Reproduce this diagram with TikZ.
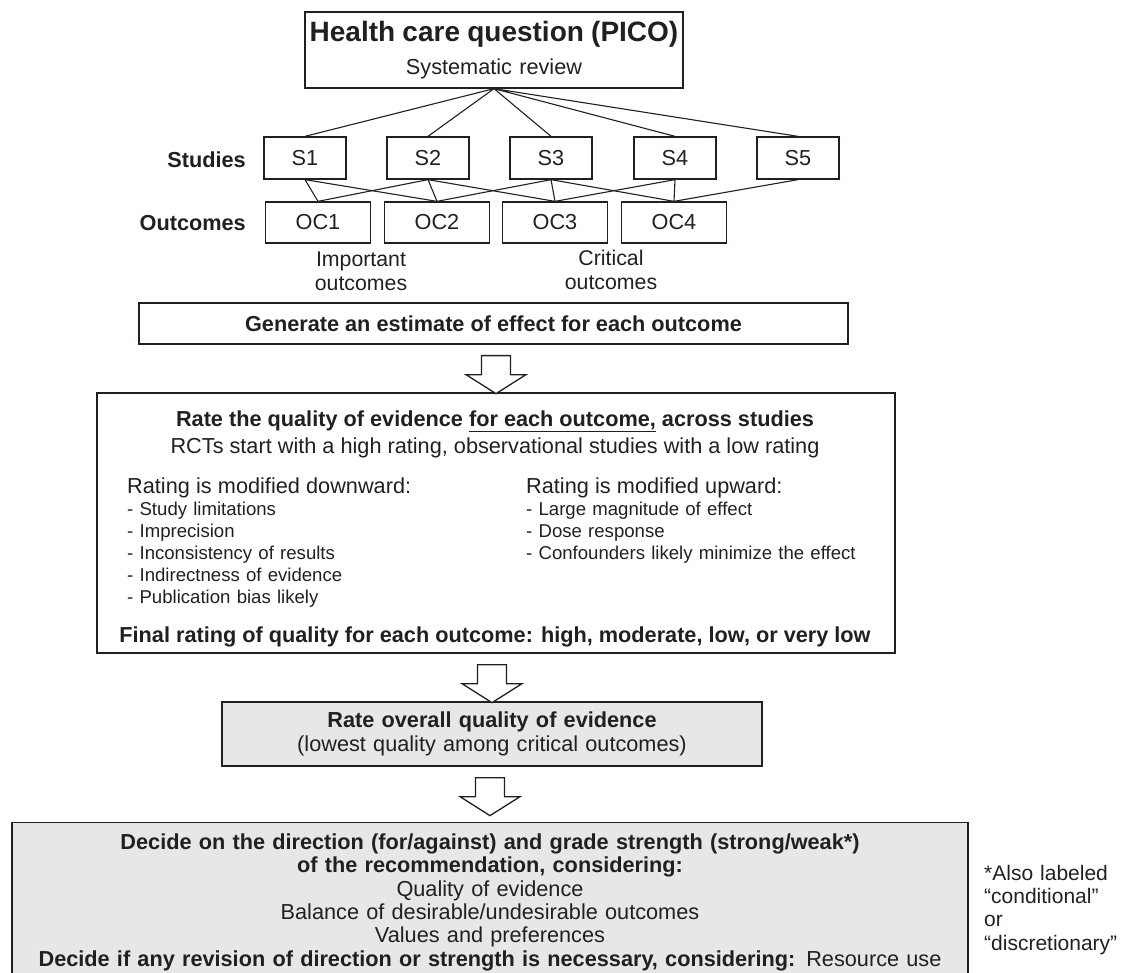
\documentclass[tikz,border=0pt]{standalone}
\usepackage{fontspec}
\setmainfont{Liberation Sans}
\usepackage{tikz}
\usetikzlibrary{positioning, calc}
\definecolor{boxgray}{HTML}{E6E7E8}
\definecolor{inkgray}{HTML}{231F20}
\newcommand{\bodysize}{\fontsize{21.7}{23.4}\selectfont}
\newcommand{\listsize}{\fontsize{18.6}{22}\selectfont}
\newcommand{\titlesize}{\fontsize{28}{30}\selectfont}
\newcommand{\flowarrow}[2]{%
	\draw[blockarrow] ($(#2.north |- #1.south)+(-14.5,11)$) -- ++(0,19) -- ++(-15.5,0) -- ++(30,19) -- ++(30,-19) -- ++(-15.5,0) -- ++(0,-19) -- cycle;}
\tikzstyle{qbox} = [draw=inkgray, line width=1.3pt, rectangle, inner sep=0pt, text=inkgray, font=\bodysize]
\tikzstyle{graybox} = [qbox, fill=boxgray]
\tikzstyle{study} = [qbox, minimum width=82pt, minimum height=42pt]
\tikzstyle{outcome} = [qbox, minimum width=105pt, minimum height=41pt]
\tikzstyle{rowlabel} = [anchor=east, inner sep=0pt, text=inkgray, font=\bodysize\bfseries]
\tikzstyle{textonly} = [inner sep=0pt, text=inkgray, font=\bodysize]
\tikzstyle{fanline} = [draw=inkgray, line width=1.1pt]
\tikzstyle{blockarrow} = [draw=inkgray, line width=1.3pt, fill=white, line join=miter]

\begin{document}
\begin{tikzpicture}[x=1pt, y=-1pt]
	\useasboundingbox (0,0) rectangle (1132,973);
	\clip (0,0) rectangle (1132,973);
	\node[qbox, minimum width=378pt, minimum height=76pt, text width=370pt, align=center] (pico) at (494,50) {{\titlesize\bfseries Health care question (PICO)}\\[9.6pt]Systematic review};
	\node[rowlabel] (studies) at (246,160) {Studies};
	\node[rowlabel] (outcomes) at (246,223) {Outcomes};
	\node[study] (s1) at (305,158) {S1};
	\node[study] (s2) at (428,158) {S2};
	\node[study] (s3) at (551,158) {S3};
	\node[study] (s4) at (675,158) {S4};
	\node[study] (s5) at (798,158) {S5};
	\node[outcome] (oc1) at (318,222.5) {OC1};
	\node[outcome] (oc2) at (437,222.5) {OC2};
	\node[outcome] (oc3) at (555,222.5) {OC3};
	\node[outcome] (oc4) at (674,222.5) {OC4};
	\draw[fanline] (pico.south) -- (s1.north) (pico.south) -- (s2.north) (pico.south) -- (s3.north) (pico.south) -- (s4.north) (pico.south) -- (s5.north);
	\draw[fanline] (s1.south) -- (oc1.north) (s1.south) -- (oc2.north);
	\draw[fanline] (s2.south) -- (oc1.north) (s2.south) -- (oc2.north) (s2.south) -- (oc3.north);
	\draw[fanline] (s3.south) -- (oc2.north) (s3.south) -- (oc3.north) (s3.south) -- (oc4.north);
	\draw[fanline] (s4.south) -- (oc3.north) (s4.south) -- (oc4.north);
	\draw[fanline] (s5.south) -- (oc4.north);
	\node[textonly, text width=130pt, align=center, font=\fontsize{21.3}{24}\selectfont] (important) at (361,271) {Important\\outcomes};
	\node[textonly, text width=130pt, align=center, font=\fontsize{21.3}{24}\selectfont] (critical) at (611,269.5) {Critical\\outcomes};
	\node[qbox, minimum width=709pt, minimum height=41pt, font=\bodysize\bfseries] (estimate) at (493.5,323.5) {Generate an estimate of effect for each outcome};
	\node[qbox, minimum width=798pt, minimum height=260pt] (rating) at (496,523) {};
	\node[textonly, anchor=base, font=\bodysize\bfseries] (ratehead) at (495,426) {Rate the quality of evidence \underline{for each outcome,} across studies};
	\node[textonly, anchor=base] (rctnote) at (495,453) {RCTs start with a high rating, observational studies with a low rating};
	\node[textonly, anchor=base west, text width=380pt, align=left, font=\listsize] (downlist) at (127,493) {{\bodysize Rating is modified downward:}\\- Study limitations\\- Imprecision\\- Inconsistency of results\\- Indirectness of evidence\\- Publication bias likely};
	\node[textonly, anchor=base west, text width=360pt, align=left, font=\listsize] (uplist) at (526,493) {{\bodysize Rating is modified upward:}\\- Large magnitude of effect\\- Dose response\\- Confounders likely minimize the effect};
	\node[textonly, anchor=base, font=\bodysize\bfseries] (finalrate) at (495,642) {Final rating of quality for each outcome: high, moderate, low, or very low};
	\node[graybox, minimum width=540pt, minimum height=64pt, text width=520pt, align=center] (overall) at (492,734) {\textbf{Rate overall quality of evidence}\\(lowest quality among critical outcomes)};
	\node[graybox, anchor=north, text width=938pt, inner xsep=9pt, inner ysep=11pt, align=center] (decide) at (490,822) {\textbf{Decide on the direction (for/against) and grade strength (strong/weak*)}\\\textbf{of the recommendation, considering:}\\Quality of evidence\\Balance of desirable/undesirable outcomes\\Values and preferences\\\textbf{Decide if any revision of direction or strength is necessary, considering:} Resource use};
	\node[textonly, anchor=base west, text width=148pt, align=left, font=\fontsize{21}{23.4}\selectfont] (footnote) at (984,880) {*Also labeled\\“conditional”\\or\\“discretionary”};
	\flowarrow{estimate}{rating}
	\flowarrow{rating}{overall}
	\flowarrow{overall}{decide}
\end{tikzpicture}
\end{document}
